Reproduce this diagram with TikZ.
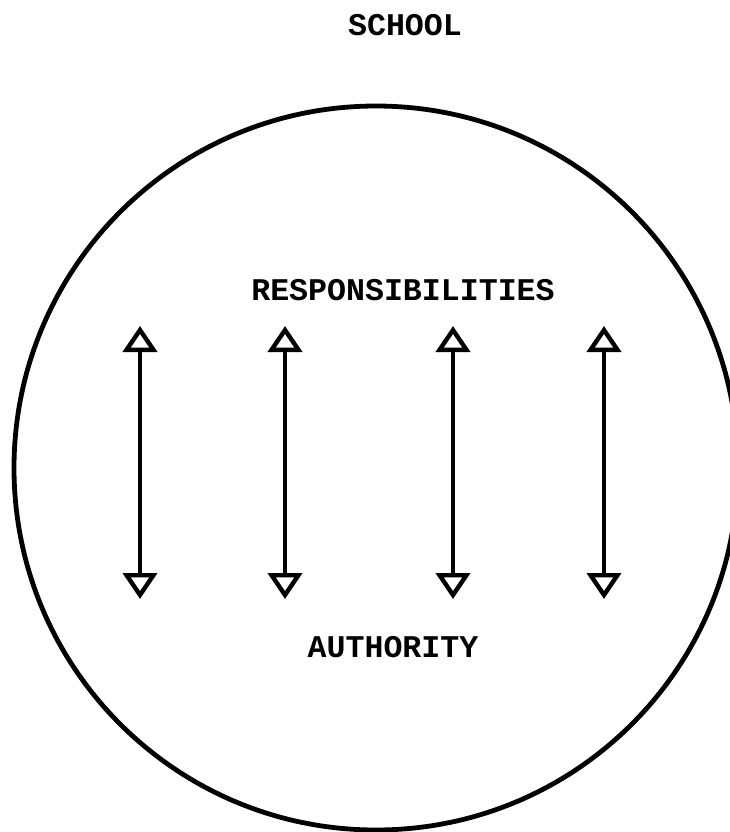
\documentclass[tikz,border=0pt]{standalone}
\usepackage{fontspec}
\setmonofont{Liberation Mono}
\usetikzlibrary{arrows.meta}

\begin{document}
\begin{tikzpicture}[
    x=0.5pt, y=-0.5pt,
    lbl/.style={font=\ttfamily\bfseries\fontsize{15.8}{18}\selectfont, inner sep=0pt},
    ring/.style={draw, circle, line width=2.4pt, inner sep=0pt, minimum size=362pt},
    arr/.style={{Triangle[open, length=13pt, width=17pt]}-{Triangle[open, length=13pt, width=17pt]}, line width=2.2pt}
  ]
    \useasboundingbox (0,0) rectangle (730,832);
    \clip (0,0) rectangle (730,832);
    \node[lbl] (school) at (405,25) {SCHOOL};
    \node[ring] (circ) at (376,468) {};
    \node[lbl] (resp) at (403,290) {RESPONSIBILITIES};
    \node[lbl] (auth) at (393,647) {AUTHORITY};
    % responsibility <-> authority links
    \foreach \i/\xx in {1/140, 2/285, 3/453, 4/604} {
      \coordinate (top\i) at (\xx,326);
      \coordinate (bot\i) at (\xx,599);
      \draw[arr] (top\i) -- (bot\i);
    }
\end{tikzpicture}
\end{document}
